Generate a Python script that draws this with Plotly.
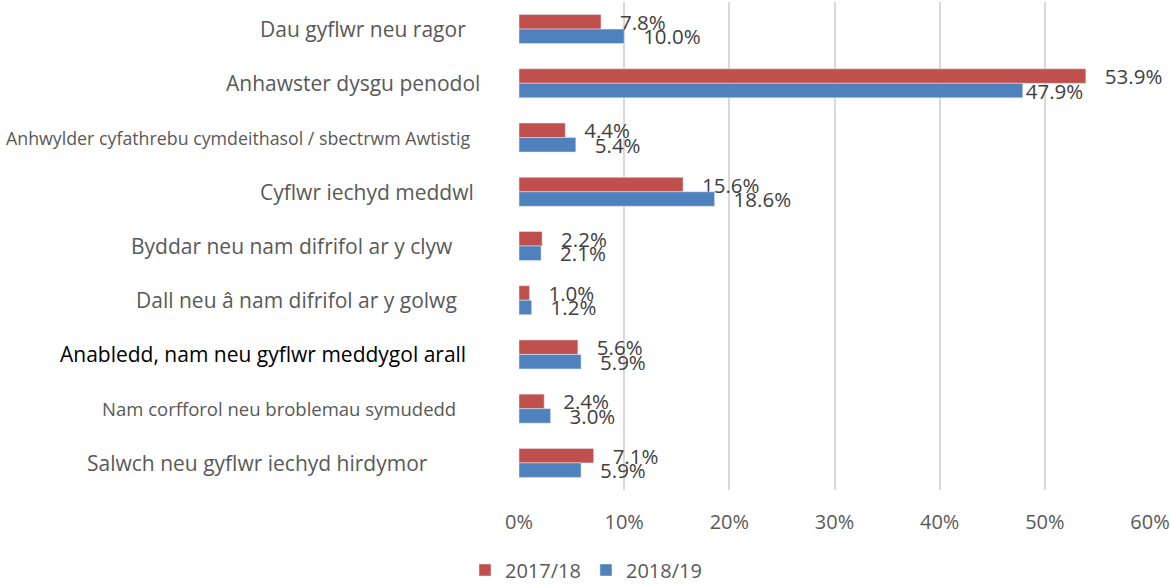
import plotly.graph_objects as go

# Categories, top to bottom
categories = [
    "Dau gyflwr neu ragor",
    "Anhawster dysgu penodol",
    "Anhwylder cyfathrebu cymdeithasol / sbectrwm Awtistig",
    "Cyflwr iechyd meddwl",
    "Byddar neu nam difrifol ar y clyw",
    "Dall neu â nam difrifol ar y golwg",
    "Anabledd, nam neu gyflwr meddygol arall",
    "Nam corfforol neu broblemau symudedd",
    "Salwch neu gyflwr iechyd hirdymor",
]
values_2017_18 = [7.8, 53.9, 4.4, 15.6, 2.2, 1.0, 5.6, 2.4, 7.1]
values_2018_19 = [10.0, 47.9, 5.4, 18.6, 2.1, 1.2, 5.9, 3.0, 5.9]
series_names = ["2017/18", "2018/19"]
x_ticks = [0, 10, 20, 30, 40, 50, 60]

# Category label styling: right edge (px from left of page), size, colour
label_right_px = [468, 482, 472, 476, 455, 459, 468, 458, 430]
label_sizes = [21, 21, 17.8, 21, 21, 21, 21, 18.5, 21]
label_colors = ["#595959"] * 6 + ["#000000"] + ["#595959"] * 2

RED = "#C0504D"
BLUE = "#4F81BD"
FONT = "Open Sans"

W, H = 1170, 586
L, R, T, B = 519, 20, 2, 96
plot_w = W - L - R
plot_h = H - T - B

PAD = "\u00a0\u00a0\u00a0"


def labels(vals, tight=()):
    out = []
    for i, v in enumerate(vals):
        s = f"{v:.1f}%"
        out.append(s if i in tight else PAD + s)
    return out


fig = go.Figure()
fig.add_trace(go.Bar(
    name=series_names[0], y=categories, x=values_2017_18, orientation="h",
    marker=dict(color=RED), text=labels(values_2017_18),
    textposition="outside", constraintext="none", cliponaxis=False,
    textfont=dict(family=FONT, size=20.5, color="#404040"),
    hoverinfo="x+y",
))
fig.add_trace(go.Bar(
    name=series_names[1], y=categories, x=values_2018_19, orientation="h",
    marker=dict(color=BLUE), text=labels(values_2018_19, tight=(1,)),
    textposition="outside", constraintext="none", cliponaxis=False,
    textfont=dict(family=FONT, size=20.5, color="#404040"),
    hoverinfo="x+y",
))

annotations = []
for cat, rx, sz, col in zip(categories, label_right_px, label_sizes, label_colors):
    annotations.append(dict(
        x=(rx - L) / plot_w, xref="paper", y=cat, yref="y",
        text=cat, showarrow=False, xanchor="right", yanchor="middle",
        font=dict(family=FONT, size=sz, color=col),
    ))

fig.update_layout(
    width=W, height=H,
    margin=dict(l=L, r=R, t=T, b=B, autoexpand=False),
    paper_bgcolor="white", plot_bgcolor="white",
    barmode="group", bargap=0.465, bargroupgap=0,
    font=dict(family=FONT, color="#595959"),
    showlegend=True,
    legend=dict(
        orientation="h", x=(586 - L) / plot_w, xanchor="center",
        y=-(570 - (H - B)) / plot_h, yanchor="middle",
        font=dict(family=FONT, size=20, color="#595959"),
        traceorder="normal", itemwidth=30,
    ),
    xaxis=dict(
        range=[0, 60], tickvals=x_ticks, ticktext=[f"{t}%" for t in x_ticks],
        showgrid=True, gridcolor="#D9D9D9", gridwidth=2, zeroline=False,
        showline=False, ticks="", ticklabelstandoff=18,
        tickfont=dict(family=FONT, size=20, color="#595959"),
    ),
    yaxis=dict(
        autorange="reversed", showticklabels=False, showgrid=False,
        showline=False, ticks="", zeroline=False,
    ),
    annotations=annotations,
)

fig.write_html("out.html")
